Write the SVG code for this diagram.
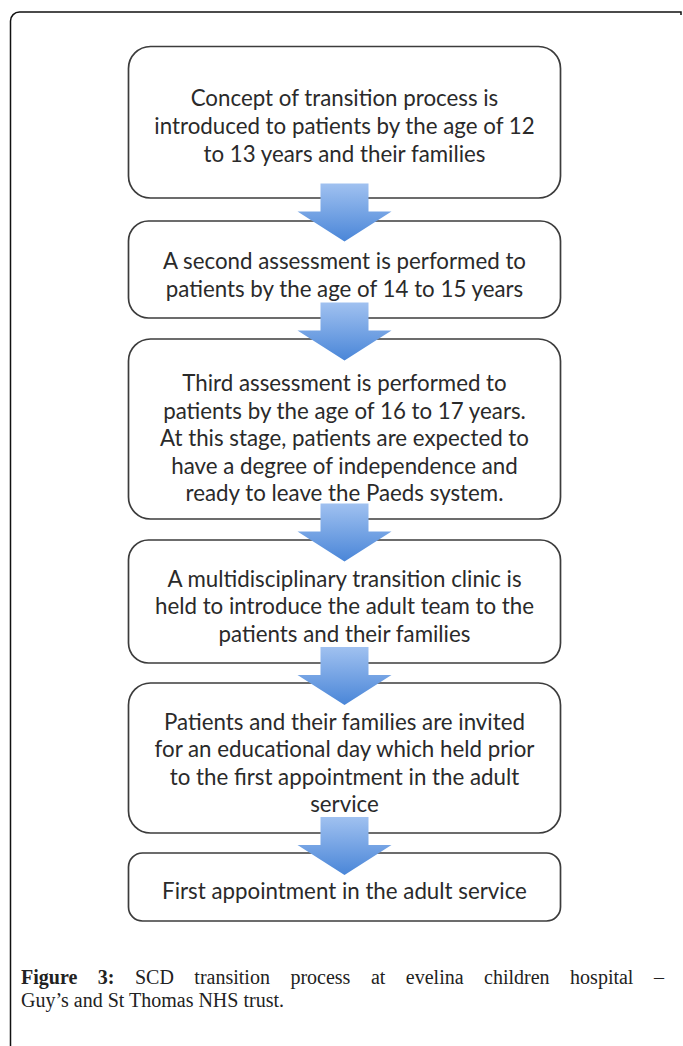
<svg xmlns="http://www.w3.org/2000/svg" width="683" height="1046" viewBox="0 0 683 1046">
<style>
.box{fill:#fff;stroke:#3c3c3c;stroke-width:1.7}
.t{font-family:Lato,"Liberation Sans",sans-serif;font-size:22.3px;fill:#2a2a2a;text-anchor:middle}
.arrow{fill:url(#ag)}
.cap{font-family:"Liberation Serif",serif;font-size:20px;fill:#222}
</style>
<defs>
<linearGradient id="ag" x1="0" y1="0" x2="0" y2="1">
<stop offset="0" stop-color="#a0c1f0"/>
<stop offset="1" stop-color="#4a86d8"/>
</linearGradient>
</defs>
<path d="M10.5,1046 V21 A9,9 0 0 1 19.5,12 H681 V15" fill="none" stroke="#111" stroke-width="1.5"/>
<g id="n1"><rect class="box" x="128.5" y="46.5" width="432" height="151.5" rx="22"/>
<text class="t"><tspan x="344.5" y="106">Concept of transition process is</tspan><tspan x="344.5" y="134">introduced to patients by the age of 12</tspan><tspan x="344.5" y="162">to 13 years and their families</tspan></text></g>
<g id="n2"><rect class="box" x="128.5" y="221" width="432" height="97" rx="20"/>
<text class="t"><tspan x="344.5" y="269">A second assessment is performed to</tspan><tspan x="344.5" y="297">patients by the age of 14 to 15 years</tspan></text></g>
<g id="n3"><rect class="box" x="128.5" y="339" width="432" height="180" rx="22"/>
<text class="t"><tspan x="344.5" y="391">Third assessment is performed to</tspan><tspan x="344.5" y="419">patients by the age of 16 to 17 years.</tspan><tspan x="344.5" y="446">At this stage, patients are expected to</tspan><tspan x="344.5" y="474">have a degree of independence and</tspan><tspan x="344.5" y="501">ready to leave the Paeds system.</tspan></text></g>
<g id="n4"><rect class="box" x="128.5" y="540" width="432" height="123" rx="20"/>
<text class="t"><tspan x="344.5" y="587">A multidisciplinary transition clinic is</tspan><tspan x="344.5" y="614">held to introduce the adult team to the</tspan><tspan x="344.5" y="642">patients and their families</tspan></text></g>
<g id="n5"><rect class="box" x="128.5" y="683" width="432" height="150" rx="22"/>
<text class="t"><tspan x="344.5" y="730">Patients and their families are invited</tspan><tspan x="344.5" y="757">for an educational day which held prior</tspan><tspan x="344.5" y="785">to the first appointment in the adult</tspan><tspan x="344.5" y="812">service</tspan></text></g>
<g id="n6"><rect class="box" x="128.5" y="853" width="432" height="68" rx="14"/>
<text class="t" x="344.5" y="899">First appointment in the adult service</text></g>
<g id="connectors">
<polygon class="arrow" points="320.5,183.5 368.5,183.5 368.5,211.5 391.5,211.5 344.5,241.5 297.5,211.5 320.5,211.5"/>
<polygon class="arrow" points="320.5,302.5 368.5,302.5 368.5,330.5 391.5,330.5 344.5,360.5 297.5,330.5 320.5,330.5"/>
<polygon class="arrow" points="320.5,503.5 368.5,503.5 368.5,531.5 391.5,531.5 344.5,561.5 297.5,531.5 320.5,531.5"/>
<polygon class="arrow" points="320.5,647 368.5,647 368.5,675 391.5,675 344.5,705 297.5,675 320.5,675"/>
<polygon class="arrow" points="320.5,817 368.5,817 368.5,845 391.5,845 344.5,875 297.5,845 320.5,845"/>
</g>
<g id="caption">
<text class="cap" x="21" y="984" word-spacing="15.5"><tspan font-weight="bold">Figure 3:</tspan> SCD transition process at evelina children hospital –</text>
<text class="cap" x="21" y="1007">Guy’s and St Thomas NHS trust.</text>
</g>
</svg>
